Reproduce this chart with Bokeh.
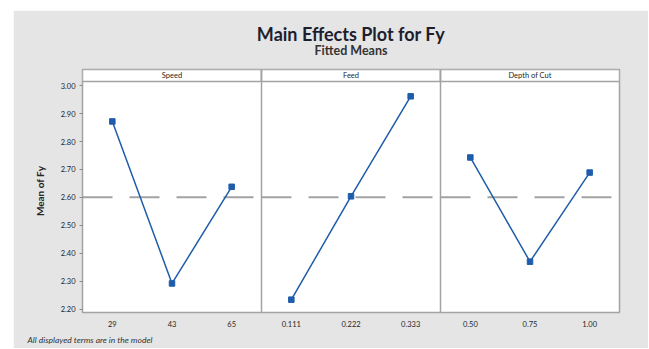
import numpy as np
from bokeh.plotting import figure
from bokeh.models import FixedTicker, Range1d, Span, NumeralTickFormatter, Title
from bokeh.core.properties import value
from bokeh.embed import file_html
from bokeh.resources import INLINE

# ---- data ----
factors = ["Speed", "Feed", "Depth of Cut"]
speed_levels = ["29", "43", "65"]
feed_levels = ["0.111", "0.222", "0.333"]
depth_levels = ["0.50", "0.75", "1.00"]
speed_means = [2.872, 2.292, 2.638]
feed_means = [2.234, 2.604, 2.962]
depth_means = [2.743, 2.370, 2.689]
y_ticks = [2.20, 2.30, 2.40, 2.50, 2.60, 2.70, 2.80, 2.90, 3.00]

levels = [speed_levels, feed_levels, depth_levels]
means = [speed_means, feed_means, depth_means]
grand_mean = float(np.mean(speed_means + feed_means + depth_means))

FONT = "Lato"
BLUE = "#1f5cab"
GRAY = "#a3a3a3"
TXT = "#262626"

n = 3  # levels per factor
strip_lo, strip_hi = 3.015, 3.058

p = figure(width=635, height=338,
           x_range=Range1d(-0.5, 3 * n - 0.5), y_range=Range1d(2.188, strip_hi),
           output_backend="svg", toolbar_location=None,
           min_border_left=69, min_border_right=29, min_border_top=59, min_border_bottom=36)
p.margin = (10, 0, 0, 13)
p.background_fill_color = "white"
p.border_fill_color = "#e5e5e5"
p.outline_line_color = GRAY
p.outline_line_width = 1.5
p.grid.visible = False

# titles (added outward from the frame: subtitle first, then main title)
p.add_layout(Title(text="Fitted Means", text_font=FONT, text_font_style="bold",
                   text_font_size="12.5px", text_color="#333333",
                   align="center", standoff=24), "above")
p.add_layout(Title(text="Main Effects Plot for Fy", text_font=FONT, text_font_style="bold",
                   text_font_size="18px", text_color="#1e1e2e",
                   align="center", standoff=-33), "above")

# y axis
p.yaxis.ticker = FixedTicker(ticks=y_ticks)
p.yaxis.formatter = NumeralTickFormatter(format="0.00")
p.yaxis.axis_line_color = None
p.yaxis.major_tick_line_color = "#8a8a8a"
p.yaxis.major_tick_out = 3
p.yaxis.major_tick_in = 0
p.yaxis.minor_tick_line_color = None
p.yaxis.major_label_text_font = FONT
p.yaxis.major_label_text_font_size = "7.5px"
p.yaxis.major_label_text_color = TXT
p.yaxis.major_label_standoff = 4
p.yaxis.axis_label = "Mean of Fy"
p.yaxis.axis_label_text_font = FONT
p.yaxis.axis_label_text_font_style = "bold"
p.yaxis.axis_label_text_font_size = "10px"
p.yaxis.axis_label_text_color = TXT
p.yaxis.axis_label_standoff = 12

# x axis
xt = []
overrides = {}
for i, lv in enumerate(levels):
    for j, lab in enumerate(lv):
        xt.append(i * n + j)
        overrides[i * n + j] = lab
p.xaxis.ticker = FixedTicker(ticks=xt)
p.xaxis.major_label_overrides = overrides
p.xaxis.axis_line_color = None
p.xaxis.major_tick_line_color = None
p.xaxis.minor_tick_line_color = None
p.xaxis.major_label_text_font = FONT
p.xaxis.major_label_text_font_size = "7.5px"
p.xaxis.major_label_text_color = TXT
p.xaxis.major_label_standoff = 2

# footnote below the axis
p.add_layout(Title(text="All displayed terms are in the model", text_font=FONT,
                   text_font_style="italic", text_font_size="8.5px", text_color="#333333",
                   align="left", offset=-55, standoff=6), "below")

# strips
lefts = [i * n - 0.5 for i in range(len(factors))]
rights = [i * n + n - 0.5 for i in range(len(factors))]
p.quad(left=lefts, right=rights, bottom=strip_lo, top=strip_hi,
       fill_color="white", line_color=GRAY, line_width=1.5)
p.text(x=[i * n + (n - 1) / 2 for i in range(len(factors))],
       y=[(strip_lo + strip_hi) / 2] * len(factors), text=factors,
       text_font=value(FONT), text_font_size="7.5px", text_color=TXT,
       text_align="center", text_baseline="middle")

# panel separators
for i in range(1, len(factors)):
    p.add_layout(Span(location=i * n - 0.5, dimension="height",
                      line_color=GRAY, line_width=1.5))

# reference line at grand mean
p.segment(x0=lefts, x1=rights, y0=grand_mean, y1=grand_mean,
          line_color=GRAY, line_width=2, line_dash="30 17")

# main effects
for i, m in enumerate(means):
    xs = [i * n + j for j in range(len(m))]
    p.line(xs, m, line_color=BLUE, line_width=1.5)
    p.scatter(xs, m, marker="square", size=5.5, fill_color=BLUE, line_color=BLUE)

open("out.html", "w").write(file_html(p, INLINE))
